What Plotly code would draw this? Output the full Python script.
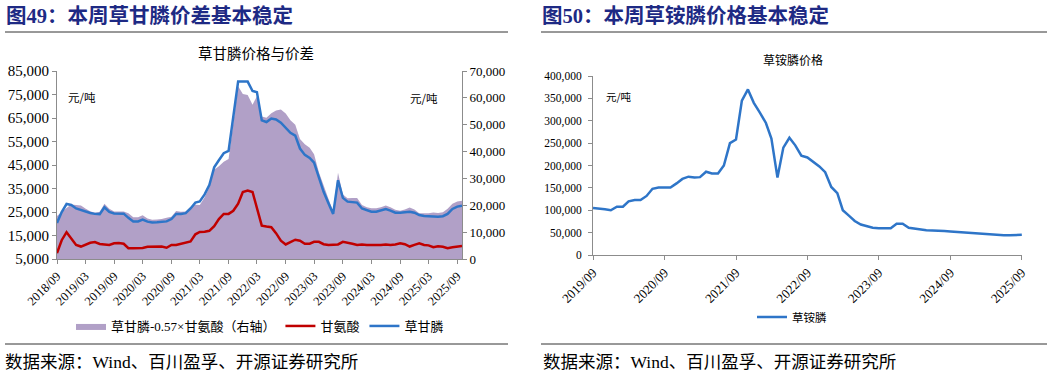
import pandas as pd
import plotly.graph_objects as go

# ---------------- Data ----------------
# Left chart: monthly, 2018-09 .. 2025-10
glyphosate = [20300, 25000, 28400, 28000, 26500, 25800, 25100, 24600, 24200, 24100,
              27000, 25000, 24400, 24400, 24300, 22500, 21000, 21000, 21800, 20900,
              20500, 20600, 20800, 21000, 22000, 24200, 24200, 24500, 26500, 29000,
              29500, 32500, 36500, 44000, 47000, 50000, 51000, 65000, 80500, 80500,
              80500, 76500, 76000, 64000, 63300, 64800, 64400, 63000, 60600, 58700,
              57500, 52000, 49300, 48000, 46000, 39300, 33600, 28700, 24200, 38500,
              31000, 29400, 29300, 29000, 26500, 25600, 25100, 25100, 25600, 26300,
              25600, 24700, 24700, 24800, 25100, 24700, 23700, 23300, 23200, 23000,
              23000, 23200, 24200, 26300, 27300, 27700]
glycine = [7500, 13000, 16400, 13500, 11000, 10300, 11000, 11900, 12200, 11400,
           11200, 11000, 11700, 11800, 11500, 9600, 9600, 9600, 9700, 10200,
           10300, 10300, 10300, 9800, 11000, 11000, 11500, 12000, 12500, 15500,
           16500, 16600, 17000, 19000, 22000, 24200, 24200, 25500, 28500, 33500,
           34100, 33500, 27000, 19200, 18800, 18500, 16000, 12800, 11200, 12300,
           13200, 12800, 11500, 11500, 12300, 12300, 11300, 11000, 11200, 11200,
           12300, 12000, 11500, 11000, 11200, 11000, 10900, 10800, 11000, 11200,
           11000, 11200, 11700, 11300, 10300, 11000, 11700, 11000, 10800, 10000,
           10400, 10200, 9600, 10000, 10300, 10500]
spread = [16000, 17600, 19000, 20300, 20200, 19900, 18800, 17800, 17200, 17600,
          20600, 18700, 17700, 17700, 17700, 17000, 15500, 15500, 16300, 15100,
          14600, 14700, 14900, 15400, 15700, 17900, 17600, 17700, 19400, 20200,
          20100, 23000, 26800, 33200, 34500, 36200, 37200, 50500, 64300, 61400,
          61100, 57400, 60600, 53100, 52600, 54300, 55300, 55700, 54200, 51700,
          50000, 44700, 42700, 41400, 39000, 32300, 27200, 22400, 17800, 32100,
          24000, 22600, 22700, 22700, 20100, 19300, 18900, 18900, 19300, 19900,
          19300, 18300, 18000, 18400, 19200, 18400, 17000, 17000, 17000, 17300,
          17100, 17400, 18700, 20600, 21400, 21700]
dates1 = pd.date_range("2018-09-01", periods=len(glyphosate), freq="MS")

# Right chart: monthly, 2019-09 .. 2025-09
glufosinate = [105000, 104000, 102000, 100000, 108000, 108000, 120000, 123000, 123000, 132000,
               148000, 151000, 151000, 151000, 160000, 170000, 175000, 173000, 174000, 186000,
               182000, 182000, 200000, 250000, 258000, 345000, 370000, 340000, 318000, 295000,
               260000, 173000, 240000, 262000, 245000, 222000, 218000, 208000, 198000, 185000,
               152000, 138000, 100000, 88000, 76000, 68000, 64000, 61000, 60000, 60000,
               60000, 70000, 70000, 61000, 59000, 56000, 55500, 55000, 55000, 53500,
               52500, 51500, 50000, 49000, 47500, 46500, 46000, 45500, 44500, 44000,
               44000, 44500, 45000]
dates2 = pd.date_range("2019-09-01", periods=len(glufosinate), freq="MS")

W, H = 1057, 374
SERIF = "Liberation Serif"
MIXED = "Liberation Serif, Noto Sans CJK SC"
CJK = "Noto Sans CJK SC"
AX = "#8c8c8c"

def px(x):
    return x / W

def py(y):
    return 1 - y / H

fig = go.Figure()
fig.add_trace(go.Scatter(x=dates1, y=spread, name="草甘膦-0.57×甘氨酸（右轴）", mode="lines",
                         fill="tozeroy", fillcolor="#B1A0C7", line=dict(width=0, color="#B1A0C7"),
                         xaxis="x", yaxis="y", legend="legend"))
fig.add_trace(go.Scatter(x=dates1, y=glycine, name="甘氨酸", mode="lines",
                         line=dict(color="#C00000", width=2.5), xaxis="x", yaxis="y2", legend="legend"))
fig.add_trace(go.Scatter(x=dates1, y=glyphosate, name="草甘膦", mode="lines",
                         line=dict(color="#2E75C8", width=2.5), xaxis="x", yaxis="y2", legend="legend"))
fig.add_trace(go.Scatter(x=dates2, y=glufosinate, name="草铵膦", mode="lines",
                         line=dict(color="#2E75C8", width=2.5), xaxis="x2", yaxis="y3", legend="legend2"))

common_axis = dict(showgrid=False, zeroline=False, showline=True, linecolor=AX, linewidth=1,
                   ticks="outside", ticklen=4, tickcolor=AX, automargin=False)

fig.update_layout(
    template="none",
    width=W, height=H, margin=dict(l=0, r=0, t=0, b=0, pad=0, autoexpand=False),
    paper_bgcolor="white", plot_bgcolor="white",
    font=dict(family=MIXED, color="black"),
    hovermode=False,
    xaxis=dict(domain=[px(57), px(462)], anchor="y", type="date",
               range=["2018-09-01", "2025-10-01"], tickmode="linear", tick0="2018-09-01", dtick="M6",
               tickformat="%Y/%m", tickangle=-45, tickfont=dict(family=SERIF, size=12.5), **common_axis),
    yaxis=dict(domain=[py(259), py(71)], anchor="x", side="right", range=[0, 70000],
               tickmode="linear", tick0=0, dtick=10000, tickformat=",d",
               tickfont=dict(family=SERIF, size=13), **common_axis),
    yaxis2=dict(overlaying="y", anchor="x", side="left", range=[5000, 85000],
                tickmode="linear", tick0=5000, dtick=10000, tickformat=",d",
                tickfont=dict(family=SERIF, size=15), **common_axis),
    xaxis2=dict(domain=[px(593), px(1022)], anchor="y3", type="date",
                range=["2019-09-01", "2025-09-02"], tickmode="linear", tick0="2019-09-01", dtick="M12",
                tickformat="%Y/%m", tickangle=-45, tickfont=dict(family=SERIF, size=13), **common_axis),
    yaxis3=dict(domain=[py(255), py(76)], anchor="x2", range=[0, 400000],
                tickmode="linear", tick0=0, dtick=50000, tickformat=",d", ticklabelstandoff=4,
                tickfont=dict(family=SERIF, size=11.5), **common_axis),
    legend=dict(orientation="h", x=px(71), y=py(326), xanchor="left", yanchor="middle",
                font=dict(family=MIXED, size=13), bgcolor="rgba(0,0,0,0)"),
    legend2=dict(orientation="h", x=px(752), y=py(317), xanchor="left", yanchor="middle",
                 font=dict(family=MIXED, size=11.5), bgcolor="rgba(0,0,0,0)"),
    showlegend=True,
)

line_style = dict(color="#333333", width=1)
shapes = [
    dict(type="line", xref="paper", yref="paper", x0=px(5), x1=px(508), y0=py(32), y1=py(32), line=line_style),
    dict(type="line", xref="paper", yref="paper", x0=px(541), x1=px(1047), y0=py(32), y1=py(32), line=line_style),
    dict(type="line", xref="paper", yref="paper", x0=px(5), x1=px(508), y0=py(344), y1=py(344), line=line_style),
    dict(type="line", xref="paper", yref="paper", x0=px(541), x1=px(1047), y0=py(344), y1=py(344), line=line_style),
]
fig.update_layout(shapes=shapes)

TITLE_COLOR = "#1E2A84"
def ann(text, x, y, size, family=CJK, color="black", xanchor="left", bold=False):
    if bold:
        text = "<b>" + text + "</b>"
    return dict(text=text, x=px(x), y=py(y), xref="paper", yref="paper", showarrow=False,
                xanchor=xanchor, yanchor="middle", font=dict(family=family, size=size, color=color))

annotations = [
    ann("图49：本周草甘膦价差基本稳定", 4, 15, 20.5, family=MIXED, color=TITLE_COLOR, bold=True),
    ann("图50：本周草铵膦价格基本稳定", 540, 15, 20.5, family=MIXED, color=TITLE_COLOR, bold=True),
    ann("草甘膦价格与价差", 256, 52, 14.5, xanchor="center"),
    ann("草铵膦价格", 793, 60, 12, xanchor="center"),
    ann("元/吨", 66, 97, 11.5),
    ann("元/吨", 408, 98, 11.5),
    ann("元/吨", 604, 96, 10.5),
    ann("数据来源：Wind、百川盈孚、开源证券研究所", 3, 362, 17.5, family=MIXED),
    ann("数据来源：Wind、百川盈孚、开源证券研究所", 541, 362, 17.5, family=MIXED),
]
fig.update_layout(annotations=annotations)

fig.write_html("out.html", config={"displayModeBar": False},
               post_script="document.body.style.margin='0px';")
